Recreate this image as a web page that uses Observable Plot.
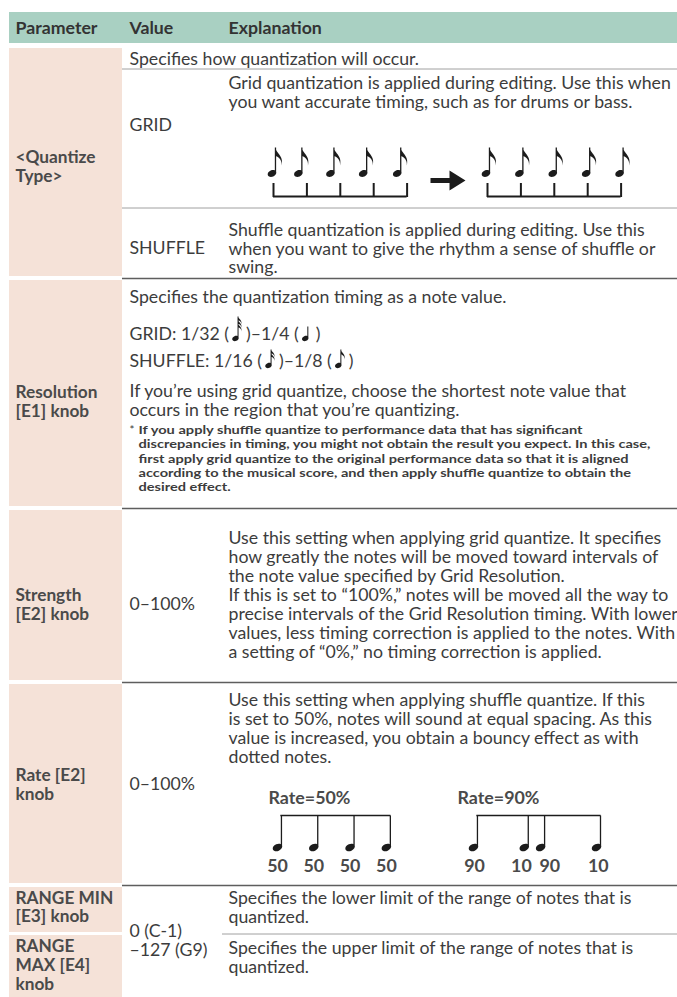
<!DOCTYPE html>
<html><head><meta charset="utf-8">
<script src="https://cdn.jsdelivr.net/npm/d3@7"></script>
<script src="https://cdn.jsdelivr.net/npm/@observablehq/plot@0.6"></script>
<style>body{margin:0;background:#fff}</style>
</head><body><div id="chart"></div>
<script>
// ---------------- DATA ----------------
const headers = ["Parameter", "Value", "Explanation"];
const paramLabels = [
  ["<Quantize", "Type>"],
  ["Resolution", "[E1] knob"],
  ["Strength", "[E2] knob"],
  ["Rate [E2]", "knob"],
  ["RANGE MIN", "[E3] knob"],
  ["RANGE", "MAX [E4]", "knob"]
];
const valueLabels = ["GRID", "SHUFFLE", "0–100%", "0–100%", ["0 (C-1)", "–127 (G9)"]];
const qtIntro = "Specifies how quantization will occur.";
const gridLines = ["Grid quantization is applied during editing. Use this when", "you want accurate timing, such as for drums or bass."];
const shuffleLines = ["Shuffle quantization is applied during editing. Use this", "when you want to give the rhythm a sense of shuffle or", "swing."];
const resIntro = "Specifies the quantization timing as a note value.";
const resGridSegs = ["GRID: 1/32 (", ")–1/4 (", ")"];
const resGridNotes = [32, 4];
const resShuffleSegs = ["SHUFFLE: 1/16 (", ")–1/8 (", ")"];
const resShuffleNotes = [16, 8];
const resLines = ["If you’re using grid quantize, choose the shortest note value that", "occurs in the region that you’re quantizing."];
const footnoteLines = [
  "If you apply shuffle quantize to performance data that has significant",
  "discrepancies in timing, you might not obtain the result you expect. In this case,",
  "first apply grid quantize to the original performance data so that it is aligned",
  "according to the musical score, and then apply shuffle quantize to obtain the",
  "desired effect."
];
const strengthLines = [
  "Use this setting when applying grid quantize. It specifies",
  "how greatly the notes will be moved toward intervals of",
  "the note value specified by Grid Resolution.",
  "If this is set to “100%,” notes will be moved all the way to",
  "precise intervals of the Grid Resolution timing. With lower",
  "values, less timing correction is applied to the notes. With",
  "a setting of “0%,” no timing correction is applied."
];
const rateLines = [
  "Use this setting when applying shuffle quantize. If this",
  "is set to 50%, notes will sound at equal spacing. As this",
  "value is increased, you obtain a bouncy effect as with",
  "dotted notes."
];
const rangeMinLines = ["Specifies the lower limit of the range of notes that is", "quantized."];
const rangeMaxLines = ["Specifies the upper limit of the range of notes that is", "quantized."];
// note onsets (in grid steps)
const gridTicks = [0, 1, 2, 3, 4];
const gridBefore = [0, 0.79, 1.75, 2.73, 3.75];
const gridAfter = [0, 1, 2, 3, 4];
const rateTitles = ["Rate=50%", "Rate=90%"];
const rate50 = [0, 1, 2, 3];
const rate50Labels = ["50", "50", "50", "50"];
const rate50LabelPos = [0, 1, 2, 3];
const rate90 = [0, 1.4, 1.85, 3.39];
const rate90Labels = ["90", "10", "90", "10"];
const rate90LabelPos = [0.03, 1.32, 2.1, 3.44];

// ---------------- STYLE / LAYOUT ----------------
const FONT = "Lato";
const C = {green: "#a9d0c2", pink: "#f5e2d8", text: "#3c3c3c", head: "#333333", label: "#4a4a4a", note: "#1c1c1c", major: "#5e5e5e", minor: "#a0a0a0"};
const cv = document.createElement("canvas").getContext("2d");
function tw(s, size, weight = "normal") { cv.font = `${weight} ${size}px "${FONT}"`; return cv.measureText(s).width; }
const bodySize = 14 * 443 / tw(gridLines[0], 14);
const footSize = 11.6;
const footStretch = 512 / tw(footnoteLines[1], footSize, "bold");
const labelSize = 14 * 82 / tw("Resolution", 14, "bold");
const headSize = 14 * 82 / tw("Parameter", 14, "bold");
const rateSize = 14 * 82 / tw("Rate=50%", 14, "bold");
const LS = 18.5; // body line step

const L = {left: 9, pR: 122, pX: 15, vX: 129, eX: 228, eCol: 222, right: 677,
  headTop: 12, headBot: 43, headY: 28};
const rows = [
  {y1: 48, y2: 276}, {y1: 280, y2: 506}, {y1: 510, y2: 680},
  {y1: 684, y2: 883}, {y1: 887, y2: 932}, {y1: 935, y2: 997}
];
const majorSeps = [278, 508, 682, 885].map(y => ({y, x1: L.pR, x2: L.right}));
const minorSeps = [{y: 68.5, x1: L.pR, x2: L.right}, {y: 207.5, x1: L.pR, x2: L.right}, {y: 933.5, x1: L.eCol, x2: L.right}];

const lines = (arr, x, y0, step) => arr.map((t, i) => ({x, y: y0 + i * step, t}));

// body text records
const body = [
  ...lines([qtIntro], L.vX, 59, LS),
  ...lines(gridLines, L.eX, 83, LS),
  ...lines(shuffleLines, L.eX, 230, LS),
  ...lines([resIntro], L.vX, 297, LS),
  ...lines(resLines, L.vX, 391, LS),
  ...lines(strengthLines, L.eX, 538, 19),
  ...lines(rateLines, L.eX, 700, 19),
  ...lines(rangeMinLines, L.eX, 898, LS),
  ...lines(rangeMaxLines, L.eX, 948, 19),
  {x: L.vX, y: 125, t: valueLabels[0]},
  {x: L.vX, y: 248, t: valueLabels[1]},
  {x: L.vX, y: 604, t: valueLabels[2]},
  {x: L.vX, y: 784, t: valueLabels[3]},
  ...lines(valueLabels[4], L.vX, 931, 18.5)
];
// inline note text lines
const inlineNotes = [];
function inline(segs, notes, y) {
  let x = L.vX;
  segs.forEach((s, i) => {
    body.push({x, y, t: s});
    x += tw(s, bodySize);
    if (i < notes.length) { inlineNotes.push({x: x + 6.5, y: y + 4, kind: notes[i]}); x += 17; }
  });
}
inline(resGridSegs, resGridNotes, 334);
inline(resShuffleSegs, resShuffleNotes, 361);

const foot = lines(footnoteLines, 138, 430, 14.2);
const labelYs = [[157, 176], [392, 410.5], [595, 614], [775, 793.5], [897.5, 916], [946, 965, 984]];
const labels = paramLabels.flatMap((ls, i) => ls.map((t, j) => ({x: L.pX, y: labelYs[i][j], t})));
const heads = headers.map((t, i) => ({x: [L.pX, L.vX, L.eX][i], y: L.headY, t}));

// ---------------- NOTE SYMBOLS ----------------
function ellipsePath(ctx, rx, ry, a) {
  const k = 0.5523, c = Math.cos(a), s = Math.sin(a);
  const P = (x, y) => [x * c - y * s, x * s + y * c];
  const segs = [
    [[rx, k * ry], [k * rx, ry], [0, ry]],
    [[-k * rx, ry], [-rx, k * ry], [-rx, 0]],
    [[-rx, -k * ry], [-k * rx, -ry], [0, -ry]],
    [[k * rx, -ry], [rx, -k * ry], [rx, 0]]
  ];
  ctx.moveTo(...P(rx, 0));
  for (const [a1, b1, e1] of segs) ctx.bezierCurveTo(...P(...a1), ...P(...b1), ...P(...e1));
  ctx.closePath();
}
function rightPoint(rx, ry, a) {
  let best = [-1e9, 0];
  for (let i = 0; i < 360; i++) {
    const t = i * Math.PI / 180;
    const x = rx * Math.cos(t) * Math.cos(a) - ry * Math.sin(t) * Math.sin(a);
    const y = rx * Math.cos(t) * Math.sin(a) + ry * Math.sin(t) * Math.cos(a);
    if (x > best[0]) best = [x, y];
  }
  return best;
}
function noteSymbol({rx, ry, tilt = -0.4, stem = 0, stemW = 1.2, flags = 0, flagLen = 14, flagW = 7, flagGap = 5}) {
  const [xr, yr] = rightPoint(rx, ry, tilt);
  const sx = xr - 0.2;
  return {
    stemX: sx - stemW / 2,
    draw(ctx) {
      ellipsePath(ctx, rx, ry, tilt);
      if (stem > 0) ctx.rect(sx - stemW, -stem, stemW, stem + yr + 0.5);
      for (let i = 0; i < flags; i++) {
        const top = -stem + i * flagGap, x0 = sx - stemW * 0.5;
        ctx.moveTo(x0, top);
        ctx.bezierCurveTo(x0 + 0.6, top + flagLen * 0.35, x0 + flagW, top + flagLen * 0.42, x0 + flagW * 0.72, top + flagLen);
        ctx.bezierCurveTo(x0 + flagW * 0.78, top + flagLen * 0.62, x0 + flagW * 0.25, top + flagLen * 0.55, x0, top + flagLen * 0.45);
        ctx.closePath();
      }
    }
  };
}
const bigEighth = noteSymbol({rx: 4.5, ry: 3.2, stem: 26, stemW: 1.3, flags: 1, flagLen: 18, flagW: 8.5});
const beamNote = noteSymbol({rx: 5.0, ry: 3.4, stem: 32, stemW: 1.3});
const inlineSyms = {
  32: noteSymbol({rx: 3.4, ry: 2.5, stem: 22, stemW: 1, flags: 3, flagLen: 8, flagW: 4.5, flagGap: 3.5}),
  16: noteSymbol({rx: 3.4, ry: 2.5, stem: 16, stemW: 1, flags: 2, flagLen: 8, flagW: 4.5, flagGap: 3.5}),
  8: noteSymbol({rx: 3.4, ry: 2.5, stem: 16, stemW: 1, flags: 1, flagLen: 10, flagW: 5}),
  4: noteSymbol({rx: 3.4, ry: 2.5, stem: 12, stemW: 1})
};
const arrowSym = {draw(ctx) {
  ctx.rect(-17, -2.6, 21, 5.2);
  ctx.moveTo(2, -10); ctx.lineTo(18, 0); ctx.lineTo(2, 10); ctx.closePath();
}};

// diagram geometry
const Q = {before: 273, after: 487, step: 33.4, headDx: -1.5, headY: 173, brY: 196, tickTop: 183, arrowX: 447, arrowY: 180};
const R = {o50: 277, o90: 473, unit: 36.3, headY: 847, beamY: 815, numY: 866, titleY: 798, titleDx: [-9, -16]};

const tickData = [
  ...gridTicks.map(k => ({x: Q.before + k * Q.step})),
  ...gridTicks.map(k => ({x: Q.after + k * Q.step}))
];
const bracketData = [
  {x1: Q.before, x2: Q.before + 4 * Q.step}, {x1: Q.after, x2: Q.after + 4 * Q.step}
];
const eighthData = [
  ...gridBefore.map(k => ({x: Q.before + k * Q.step + Q.headDx})),
  ...gridAfter.map(k => ({x: Q.after + k * Q.step + Q.headDx}))
];
const beamHeads = [
  ...rate50.map(k => ({x: R.o50 + k * R.unit, g: 0})),
  ...rate90.map(k => ({x: R.o90 + k * R.unit, g: 1}))
];
const beams = [0, 1].map(g => {
  const xs = beamHeads.filter(d => d.g === g).map(d => d.x + beamNote.stemX);
  return {x1: d3.min(xs) - 0.6, x2: d3.max(xs) + 0.6};
});
const rateNums = [
  ...rate50LabelPos.map((k, i) => ({x: R.o50 + k * R.unit, t: rate50Labels[i]})),
  ...rate90LabelPos.map((k, i) => ({x: R.o90 + k * R.unit, t: rate90Labels[i]}))
];
const rateTitleData = rateTitles.map((t, i) => ({x: [R.o50, R.o90][i] + R.titleDx[i], t}));

// ---------------- PLOT ----------------
const txt = (data, o) => Plot.text(data, {x: "x", y: "y", text: "t", textAnchor: "start", lineAnchor: "middle", fontFamily: FONT, ...o});
const chart = Plot.plot({
  width: 677, height: 997, margin: 0,
  x: {domain: [0, 677], range: [0, 677], axis: null},
  y: {domain: [0, 997], range: [0, 997], axis: null},
  style: {fontFamily: FONT, background: "#fff"},
  marks: [
    Plot.rect([headers], {x1: () => L.left, x2: () => L.right, y1: () => L.headTop, y2: () => L.headBot, fill: C.green}),
    Plot.rect(rows, {x1: () => L.left, x2: () => L.pR, y1: "y1", y2: "y2", fill: C.pink}),
    Plot.ruleY(minorSeps, {y: "y", x1: "x1", x2: "x2", stroke: C.minor, strokeWidth: 1}),
    Plot.ruleY(majorSeps, {y: "y", x1: "x1", x2: "x2", stroke: C.major, strokeWidth: 1.3}),
    txt(heads, {fontSize: headSize, fontWeight: "bold", fill: C.head}),
    txt(labels, {fontSize: labelSize, fontWeight: "bold", fill: C.label}),
    txt(body, {fontSize: bodySize, fill: C.text}),
    txt(foot, {fontSize: footSize, fontWeight: 700, fill: C.text}),
    Plot.text(["*"], {x: () => 129, y: () => 430, text: d => d, textAnchor: "start", fontFamily: FONT, fontSize: footSize, fill: C.text}),
    // quantize diagram
    Plot.ruleY(bracketData, {y: () => Q.brY, x1: "x1", x2: "x2", stroke: C.note, strokeWidth: 2}),
    Plot.ruleX(tickData, {x: "x", y1: () => Q.tickTop, y2: () => Q.brY + 1, stroke: C.note, strokeWidth: 2}),
    Plot.dot(eighthData, {x: "x", y: () => Q.headY, symbol: bigEighth, fill: C.note, stroke: "none"}),
    Plot.dot([0], {x: () => Q.arrowX, y: () => Q.arrowY, symbol: arrowSym, fill: C.note, stroke: "none"}),
    // inline notes
    ...[32, 16, 8, 4].map(k => Plot.dot(inlineNotes.filter(d => d.kind === k), {x: "x", y: "y", symbol: inlineSyms[k], fill: C.note, stroke: "none"})),
    // rate diagrams
    Plot.ruleY(beams, {y: () => R.beamY, x1: "x1", x2: "x2", stroke: C.note, strokeWidth: 1.5}),
    Plot.dot(beamHeads, {x: "x", y: () => R.headY, symbol: beamNote, fill: C.note, stroke: "none"}),
    Plot.text(rateNums, {x: "x", y: () => R.numY, text: "t", textAnchor: "middle", fontFamily: FONT, fontSize: rateSize, fontWeight: "bold", fill: C.label}),
    Plot.text(rateTitleData, {x: "x", y: () => R.titleY, text: "t", textAnchor: "start", fontFamily: FONT, fontSize: rateSize, fontWeight: "bold", fill: C.label})
  ]
});
// widen the footnote lines to the reference's wider typeface
d3.select(chart).selectAll("text").each(function () {
  const s = this.textContent;
  if (footnoteLines.includes(s)) {
    this.setAttribute("textLength", (tw(s, footSize, "bold") * footStretch).toFixed(1));
    this.setAttribute("lengthAdjust", "spacingAndGlyphs");
  }
});
document.getElementById("chart").appendChild(chart);
</script>
</body></html>
